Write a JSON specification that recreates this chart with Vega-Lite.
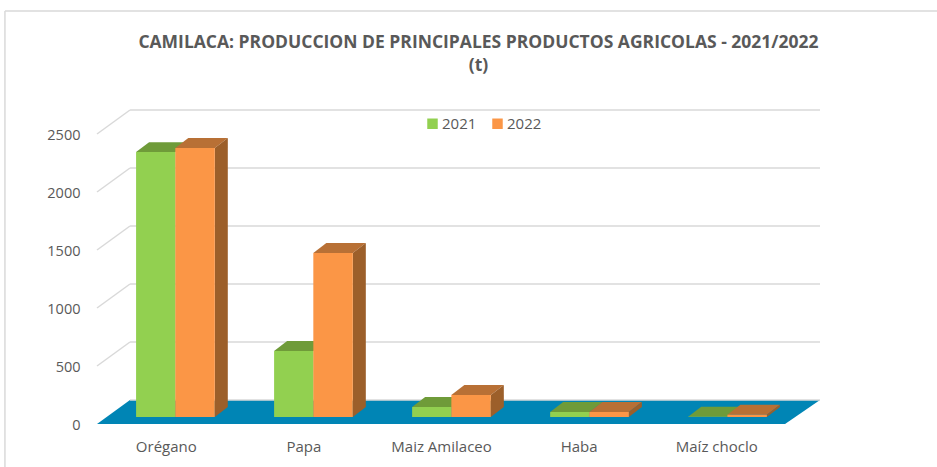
{
"$schema":"https://vega.github.io/schema/vega-lite/v6.json",
"width":723,"height":314,"autosize":"none",
"padding":{"left":97,"top":110,"right":117,"bottom":43},
"background":"white",
"config":{"view":{"stroke":null}},
"title":{"text":["CAMILACA: PRODUCCION DE PRINCIPALES PRODUCTOS AGRICOLAS - 2021/2022","(t)"],"font":"Open Sans","fontSize":17.5,"fontWeight":"bold","color":"#595959","lineHeight":23,"anchor":"middle","frame":"group","dx":20,"offset":-64},
"datasets":{
"produccion":[
{"producto":"Orégano","anio":"2021","valor":2284},
{"producto":"Orégano","anio":"2022","valor":2319},
{"producto":"Papa","anio":"2021","valor":569},
{"producto":"Papa","anio":"2022","valor":1414},
{"producto":"Maiz Amilaceo","anio":"2021","valor":86},
{"producto":"Maiz Amilaceo","anio":"2022","valor":190},
{"producto":"Haba","anio":"2021","valor":43},
{"producto":"Haba","anio":"2022","valor":43},
{"producto":"Maíz choclo","anio":"2021","valor":3},
{"producto":"Maíz choclo","anio":"2022","valor":20}
],
"marcas":[{"t":0},{"t":500},{"t":1000},{"t":1500},{"t":2000},{"t":2500}]
},
"layer":[
{"data":{"values":[{"marco":"borde"}]},"mark":{"type":"rule","color":"#D9D9D9","strokeWidth":1.5},
 "encoding":{"x":{"datum":-0.669,"type":"quantitative","scale":{"domain":[0,5.254],"nice":false,"zero":false},"axis":{"title":null,"values":[0.5,1.5,2.5,3.5,4.5],"labelExpr":"['Orégano','Papa','Maiz Amilaceo','Haba','Maíz choclo'][floor(datum.value)]","domain":false,"ticks":false,"grid":false,"labelFont":"Open Sans","labelFontSize":15,"labelColor":"#595959","labelPadding":15}},
 "x2":{"datum":6.2},
 "y":{"datum":3560,"type":"quantitative","scale":{"domain":[0,2707],"nice":false,"zero":false},"axis":{"title":null,"values":[0,500,1000,1500,2000,2500],"format":"d","domain":false,"ticks":false,"grid":false,"labelFont":"Open Sans","labelFontSize":14.5,"labelColor":"#595959","labelPadding":17,"labelOffset":1.5}}}},
{"data":{"values":[{"marco":"borde"}]},"mark":{"type":"rule","color":"#D9D9D9","strokeWidth":1.5},
 "encoding":{"x":{"datum":-0.669,"type":"quantitative"},"y":{"datum":3560,"type":"quantitative"},"y2":{"datum":-370}}},
{"data":{"values":[{"c":0},{"c":1}]},"transform":[{"calculate":"datum.c*0.24","as":"a"},{"calculate":"5+datum.c*0.254","as":"b"},{"calculate":"datum.c*207","as":"h"}],
 "mark":{"type":"area","orient":"horizontal","color":"#0085B5"},
 "encoding":{"y":{"field":"h","type":"quantitative"},"x":{"field":"a","type":"quantitative"},"x2":{"field":"b"}}},
{"data":{"name":"marcas"},"transform":[{"filter":"datum.t>0"},{"calculate":"0.24","as":"xb"},{"calculate":"0","as":"xa"},{"calculate":"datum.t+207","as":"tb"}],
 "mark":{"type":"rule","color":"#D9D9D9","strokeWidth":1.5},
 "encoding":{"x":{"field":"xa","type":"quantitative"},"x2":{"field":"xb"},"y":{"field":"t","type":"quantitative"},"y2":{"field":"tb"}}},
{"data":{"name":"marcas"},"transform":[{"calculate":"0.24","as":"xa"},{"calculate":"5.254","as":"xb"},{"calculate":"datum.t+207","as":"tb"}],
 "mark":{"type":"rule","color":"#D9D9D9","strokeWidth":1.5},
 "encoding":{"x":{"field":"xa","type":"quantitative"},"x2":{"field":"xb"},"y":{"field":"tb","type":"quantitative"}}},
{"data":{"name":"produccion"},"transform":[
 {"calculate":"indexof(['Orégano','Papa','Maiz Amilaceo','Haba','Maíz choclo'],datum.producto)*1.003+0.284+(datum.anio==='2022'?0.285:0)","as":"izq"},
 {"calculate":"[0,1]","as":"c"},{"flatten":["c"]},
 {"calculate":"datum.izq+datum.c*0.0945","as":"xa"},{"calculate":"datum.izq+0.287+datum.c*0.0945","as":"xb"},
 {"calculate":"60+datum.valor+datum.c*86","as":"h"}],
 "mark":{"type":"area","orient":"horizontal"},
 "encoding":{"detail":{"field":"izq"},"y":{"field":"h","type":"quantitative"},"x":{"field":"xa","type":"quantitative"},"x2":{"field":"xb"},
 "color":{"condition":{"test":"datum.anio==='2021'","value":"#6F9B39"},"value":"#B87035"}}},
{"data":{"name":"produccion"},"transform":[{"filter":"datum.anio==='2022'"},
 {"calculate":"indexof(['Orégano','Papa','Maiz Amilaceo','Haba','Maíz choclo'],datum.producto)*1.003+0.284+0.285+0.287","as":"der"},
 {"calculate":"[0,1]","as":"c"},{"flatten":["c"]},
 {"calculate":"datum.der+datum.c*0.0945","as":"xa"},
 {"calculate":"60+datum.c*86","as":"ya"},{"calculate":"60+datum.valor+datum.c*86","as":"yb"}],
 "mark":{"type":"area","orient":"vertical","color":"#9C5F2A"},
 "encoding":{"detail":{"field":"der"},"x":{"field":"xa","type":"quantitative"},"y":{"field":"ya","type":"quantitative"},"y2":{"field":"yb"}}},
{"data":{"name":"produccion"},"transform":[
 {"calculate":"indexof(['Orégano','Papa','Maiz Amilaceo','Haba','Maíz choclo'],datum.producto)*1.003+0.284+(datum.anio==='2022'?0.285:0)","as":"izq"},
 {"calculate":"datum.izq+0.287","as":"der"},{"calculate":"60","as":"base"},{"calculate":"60+datum.valor","as":"cima"}],
 "mark":{"type":"rect"},
 "encoding":{"x":{"field":"izq","type":"quantitative"},"x2":{"field":"der"},"y":{"field":"base","type":"quantitative"},"y2":{"field":"cima"},
 "color":{"field":"anio","type":"nominal","scale":{"domain":["2021","2022"],"range":["#92D050","#FB9646"]},
 "legend":{"title":null,"orient":"none","legendX":328,"legendY":6,"direction":"horizontal","symbolType":"square","symbolSize":110,"symbolStrokeWidth":0,"labelFont":"Open Sans","labelFontSize":15,"labelColor":"#595959","columnPadding":13,"labelOffset":2}}}}
]
}
